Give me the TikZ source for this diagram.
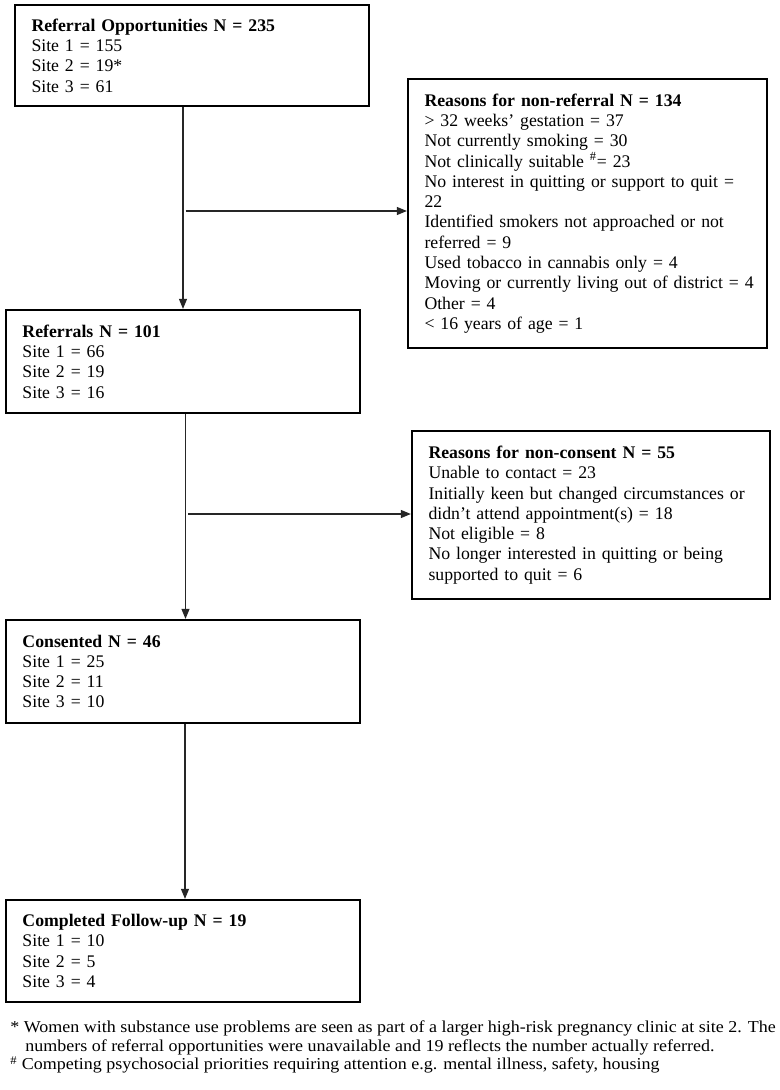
\documentclass[tikz,border=0pt]{standalone}
\usepackage{fontspec}
\usepackage{graphicx}
\setmainfont{Liberation Serif}
\usetikzlibrary{arrows.meta}
\newcommand\boxfont{\fontsize{13.3pt}{15.2pt}\selectfont}
\newcommand\notefont{\fontsize{12.5pt}{13.9pt}\selectfont}
\newcommand\notewide[1]{\scalebox{1.08}[1]{#1}}
\hfuzz=50pt
\begin{document}
\begin{tikzpicture}[x=0.75pt,y=-0.75pt,
  flowbox/.style={draw=black, line width=1.7pt, rectangle, inner xsep=12.375pt,
    inner ysep=0pt, align=left, font=\boxfont},
  conn/.style={draw=black!85, line width=0.8pt, -{Triangle[length=7.5pt,width=6pt]}},
  notetext/.style={inner sep=0pt, anchor=west, font=\notefont}]
\useasboundingbox[fill=white] (0,0) rectangle (780,1090);

\node[flowbox, text width=240.75pt, minimum height=75.75pt] (b1) at (192,55.5)
  {\textbf{Referral Opportunities N = 235}\\Site 1 = 155\\Site 2 = 19*\\Site 3 = 61};

\node[flowbox, text width=244.5pt, minimum height=201.75pt] (b2) at (587.5,213.5)
  {\textbf{Reasons for non-referral N = 134}\\
   > 32 weeks’ gestation = 37\\
   Not currently smoking = 30\\
   Not clinically suitable \textsuperscript{\#}= 23\\
   No interest in quitting or support to quit =\\
   22\\
   Identified smokers not approached or not\\
   referred = 9\\
   Used tobacco in cannabis only = 4\\
   \mbox{Moving or currently living out of district = 4}\\
   Other = 4\\
   < 16 years of age = 1};

\node[flowbox, text width=240.75pt, minimum height=77.25pt] (b3) at (183,361.5)
  {\textbf{Referrals N = 101}\\Site 1 = 66\\Site 2 = 19\\Site 3 = 16};

\node[flowbox, text width=243.75pt, minimum height=126pt] (b4) at (591,515)
  {\textbf{Reasons for non-consent N = 55}\\
   Unable to contact = 23\\
   \mbox{Initially keen but changed circumstances or}\\
   didn’t attend appointment(s) = 18\\
   Not eligible = 8\\
   No longer interested in quitting or being\\
   supported to quit = 6};

\node[flowbox, text width=240.75pt, minimum height=77.25pt] (b5) at (183,671.5)
  {\textbf{Consented N = 46}\\Site 1 = 25\\Site 2 = 11\\Site 3 = 10};

\node[flowbox, text width=240.75pt, minimum height=76.5pt] (b6) at (183,951)
  {\textbf{Completed Follow-up N = 19}\\Site 1 = 10\\Site 2 = 5\\Site 3 = 4};

% connector guide coordinates
\coordinate (v1) at (183,0);
\coordinate (h1) at (185.5,211);
\coordinate (v2) at (185.5,0);
\coordinate (h2) at (188,514);
\coordinate (v3) at (185,0);

\draw[conn] (v1 |- b1.south) -- (v1 |- b3.north);
\draw[conn] (h1) -- (h1 -| b2.west);
\draw[conn] (v2 |- b3.south) -- (v2 |- b5.north);
\draw[conn] (h2) -- (h2 -| b4.west);
\draw[conn] (v3 |- b5.south) -- (v3 |- b6.north);

\node[notetext] (n1) at (10,1028) {\notewide{* Women with substance use problems are seen as part of a larger high-risk pregnancy clinic at site 2. The}};
\node[notetext] (n2) at (25,1047) {\notewide{numbers of referral opportunities were unavailable and 19 reflects the number actually referred.}};
\node[notetext] (n3) at (10,1065) {\notewide{\textsuperscript{\#} Competing psychosocial priorities requiring attention e.g. mental illness, safety, housing}};
\end{tikzpicture}
\end{document}
